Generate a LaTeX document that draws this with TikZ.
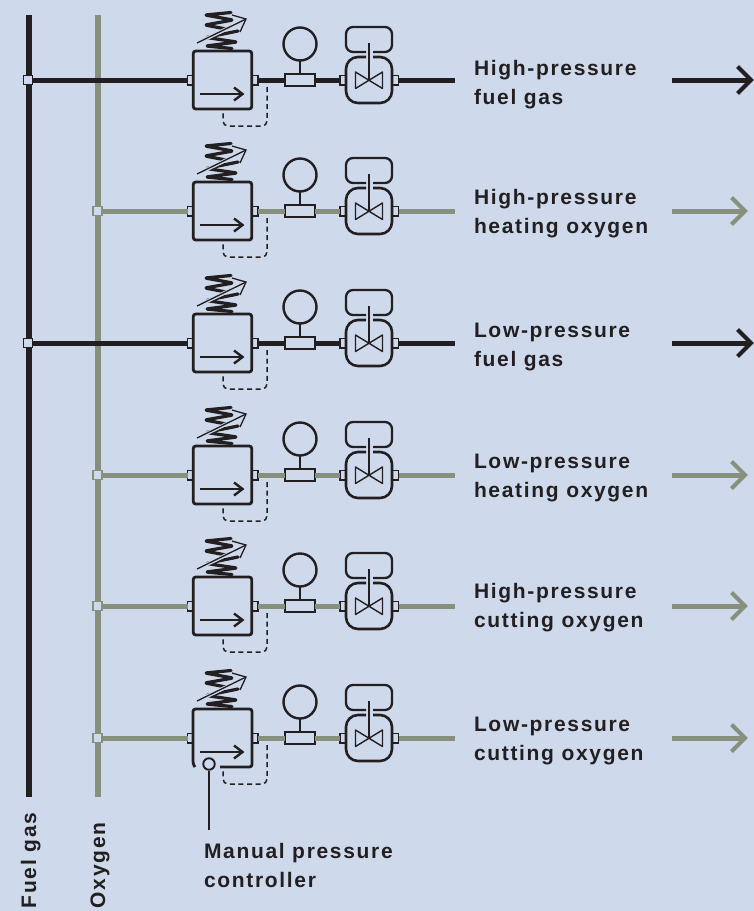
\documentclass[tikz,border=0pt]{standalone}
\usepackage{fontspec}
\setmainfont{Liberation Sans}[LetterSpace=8]
\definecolor{bgc}{HTML}{CEDAEC}
\definecolor{ink}{HTML}{231F20}
\definecolor{oxy}{HTML}{87907D}
\tikzset{
  x=1pt,y=-1pt,
  port/.style={draw=ink,fill=bgc,line width=1.5,minimum width=6,minimum height=9.5,inner sep=0,outer sep=0},
  junc/.style={fill=bgc,line width=1.5,minimum width=9,minimum height=9,inner sep=0,outer sep=0},
  regbox/.style={draw=ink,line width=2.8,rounded corners=2.5,minimum width=58.5,minimum height=58,inner sep=0,outer sep=0},
  gaugecirc/.style={circle,draw=ink,line width=2.4,minimum size=33,inner sep=0,outer sep=0},
  gaugebase/.style={draw=ink,line width=1.7,minimum width=29.5,minimum height=12.5,inner sep=0,outer sep=0},
  pipe/.style={line width=5},
  bus/.style={line width=5.2},
  lbl/.style={anchor=base west,inner sep=0,outer sep=0,font=\fontsize{21}{22}\selectfont\bfseries,text=ink},
  vlbl/.style={anchor=base west,rotate=90,inner sep=0,outer sep=0,font=\fontsize{21}{22}\selectfont\bfseries,text=ink},
  dashline/.style={draw=ink,line width=1.5,dash pattern=on 5 off 3.6,rounded corners=5},
  springline/.style={ink,line width=3.2,line cap=round,line join=round,rounded corners=2},
}
\begin{document}
\begin{tikzpicture}
\path[use as bounding box,fill=bgc] (0,0) rectangle (754,911);
\coordinate (ft) at (29,15);
\coordinate (fb) at (29,797);
\coordinate (ot) at (98,15);
\coordinate (ob) at (98,797);
\draw[bus,ink] (ft) -- (fb);
\draw[bus,oxy] (ot) -- (ob);
\node[junc,draw=ink] (j1) at (28,80) {};
\node[junc,draw=oxy] (j2) at (97.5,211) {};
\node[junc,draw=ink] (j3) at (28,343) {};
\node[junc,draw=oxy] (j4) at (97.5,475) {};
\node[junc,draw=oxy] (j5) at (97.5,606) {};
\node[junc,draw=oxy] (j6) at (97.5,738) {};
\foreach \n/\yy/\cc/\jj/\tx in {a/80/ink/j1/751,b/211/oxy/j2/745,c/343/ink/j3/751,d/475/oxy/j4/745,e/606/oxy/j5/745,f/738/oxy/j6/745}{
  \begin{scope}[shift={(0,\yy)}]
    \node[port] (\n pl) at (190.5,0) {};
    \node[port] (\n pr) at (255,0) {};
    \node[gaugebase] (\n gb) at (300,0) {};
    \node[gaugecirc] (\n gc) at (300,-36) {};
    \node[port] (\n vl) at (343,0) {};
    \node[port] (\n vr) at (395.5,0) {};
    \coordinate (\n end) at (455,0);
    \coordinate (\n as) at (672,0);
    \coordinate (\n ae) at (\tx,0);
    \draw[pipe,\cc] (\jj) -- (\n pl);
    \draw[pipe,\cc] (\n pr) -- (\n gb);
    \draw[pipe,\cc] (\n gb) -- (\n vl);
    \draw[pipe,\cc] (\n vr) -- (\n end);
    \draw[pipe,\cc] (\n as) -- (\n ae);
    \draw[\cc,line width=4,line join=miter] ([shift={(-13.5,-13.5)}]\n ae) -- (\n ae) -- ([shift={(-13.5,13.5)}]\n ae);
    \draw[ink,line width=2] (\n gc) -- (\n gb);
    \draw[ink,line width=2.3,rounded corners=7] (366,-28) -- (346,-28) -- (346,-53) -- (392,-53) -- (392,-28) -- (373,-28);
    \draw[ink,line width=2.6,rounded corners=12] (366,-23) -- (346,-23) -- (346,23) -- (392,23) -- (392,-23) -- (373,-23);
    \draw[ink,line width=1.4] (369,-37) -- (369,0);
    \draw[ink,line width=1.4,line join=round] (355.5,-8) -- (382.5,8.5) -- (382.5,-8) -- (355.5,8.5) -- cycle;
    \draw[springline] (231,-67.5) -- (205,-65) -- (233,-60) -- (205,-55) -- (226,-51);
    \draw[springline] (238,-49) -- (206,-42.5) -- (237,-38) -- (206,-34) -- (232,-31.5);
    \draw[bgc,line width=3.6] (197,-37) -- (243,-59);
    \draw[ink,line width=1.3] (197,-37) -- (246,-61);
    \draw[ink,line width=1.3] (232,-65) -- (246,-61) -- (240,-48);
    \draw[dashline] (267,7) -- (267,46) -- (223,46) -- (223,29);
  \end{scope}
}
\foreach \n/\yy in {a/80,b/211,c/343,d/475,e/606}{
  \node[regbox,fill=bgc] (\n box) at (222.5,\yy) {};
}
\coordinate (fbtl) at (193,709);
\coordinate (fbtr) at (252,709);
\coordinate (fbbr) at (252,767);
\draw[ink,line width=2.8,rounded corners=2.5] (195,767) -- (193,764) -- (fbtl) -- (fbtr) -- (fbbr) -- (220,767);
\node[circle,draw=ink,line width=1.9,minimum size=11.5,inner sep=0] (mc) at (209,764) {};
\coordinate (mce) at (209,830);
\draw[ink,line width=1.7] (mc) -- (mce);
\foreach \n/\yy in {a/80,b/211,c/343,d/475,e/606,f/738}{
  \draw[ink,line width=1.9] (200,\yy+14) -- (242,\yy+14);
  \draw[ink,line width=2.4,line join=miter] (234,\yy+7.5) -- (242.5,\yy+14) -- (234,\yy+20.5);
}
\node[lbl] (t1) at (474,75) {High-pressure};
\node[lbl] (t2) at (474,104) {fuel gas};
\node[lbl] (t3) at (474,204) {High-pressure};
\node[lbl] (t4) at (474,233) {heating oxygen};
\node[lbl] (t5) at (474,337) {Low-pressure};
\node[lbl] (t6) at (474,366) {fuel gas};
\node[lbl] (t7) at (474,468) {Low-pressure};
\node[lbl] (t8) at (474,497) {heating oxygen};
\node[lbl] (t9) at (474,598) {High-pressure};
\node[lbl] (t10) at (474,627) {cutting oxygen};
\node[lbl] (t11) at (474,731) {Low-pressure};
\node[lbl] (t12) at (474,760) {cutting oxygen};
\node[lbl] (t13) at (204,858) {Manual pressure};
\node[lbl] (t14) at (204,887) {controller};
\node[vlbl] (v1) at (36,908) {Fuel gas};
\node[vlbl] (v2) at (105,908) {Oxygen};
\end{tikzpicture}
\end{document}
